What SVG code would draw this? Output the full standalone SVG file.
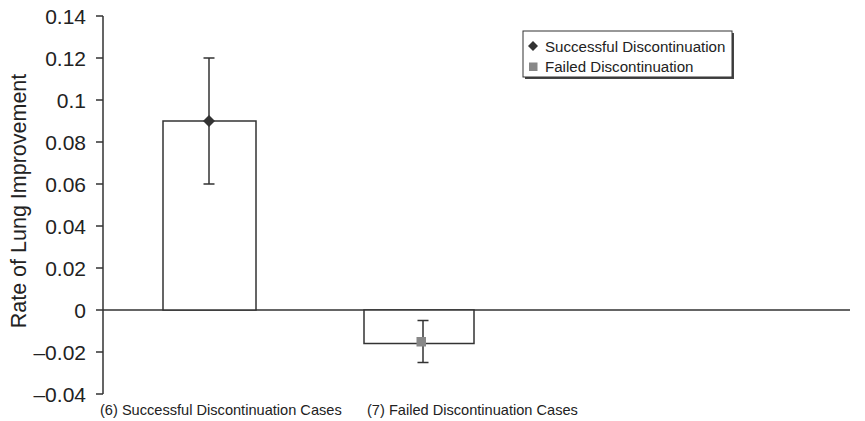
<svg xmlns="http://www.w3.org/2000/svg" width="865" height="421" viewBox="0 0 865 421">
<style>
.ax{stroke:#333;stroke-width:1.5;fill:none}
.tl{font-family:"Liberation Sans",Arial,sans-serif;font-size:21px;fill:#222;text-anchor:end}
.bar{fill:#fff;stroke:#333;stroke-width:1.5}
.eb{stroke:#333;stroke-width:1.5;fill:none}
.lg{font-family:"Liberation Sans",Arial,sans-serif;font-size:15.1px;fill:#222}
.cat{font-family:"Liberation Sans",Arial,sans-serif;font-size:14.6px;fill:#222}
</style>
<rect width="865" height="421" fill="#fff"/>
<g id="axes">
<path class="ax" d="M103,16 V394 M96,16 H103 M96,58 H103 M96,100 H103 M96,142 H103 M96,184 H103 M96,226 H103 M96,268 H103 M96,352 H103 M96,394 H103 M96,310 H850"/>
<text class="tl" x="86" y="23.5">0.14</text>
<text class="tl" x="86" y="65.5">0.12</text>
<text class="tl" x="86" y="107.5">0.1</text>
<text class="tl" x="86" y="149.5">0.08</text>
<text class="tl" x="86" y="191.5">0.06</text>
<text class="tl" x="86" y="233.5">0.04</text>
<text class="tl" x="86" y="275.5">0.02</text>
<text class="tl" x="86" y="317.5">0</text>
<text class="tl" x="86" y="359.5">–0.02</text>
<text class="tl" x="86" y="401.5">–0.04</text>
<text font-family="Liberation Sans,Arial,sans-serif" font-size="21.5" fill="#222" text-anchor="middle" transform="translate(26,201) rotate(-90)">Rate of Lung Improvement</text>
</g>
<g id="bar-successful">
<rect class="bar" x="163" y="121" width="93" height="189"/>
<path class="eb" d="M209,58 V184 M203.5,58 H214.5 M203.5,184 H214.5"/>
<path d="M209,115 L215,121 L209,127 L203,121 Z" fill="#333"/>
</g>
<g id="bar-failed">
<rect class="bar" x="364" y="310" width="110" height="33.5"/>
<path class="eb" d="M423,320.5 V362.5 M417.5,320.5 H428.5 M417.5,362.5 H428.5"/>
<rect x="416.5" y="337" width="9.5" height="9.5" fill="#888"/>
</g>
<g id="legend">
<rect x="525" y="33" width="209" height="46" fill="#444"/>
<rect x="523" y="31" width="209" height="46" fill="#fff" stroke="#333" stroke-width="1"/>
<path d="M533,41 L538,46 L533,51 L528,46 Z" fill="#333"/>
<text class="lg" x="545" y="52">Successful Discontinuation</text>
<rect x="529" y="62.5" width="8.5" height="8.5" fill="#888"/>
<text class="lg" x="545" y="72">Failed Discontinuation</text>
</g>
<g id="categories">
<text class="cat" x="100" y="415">(6) Successful Discontinuation Cases</text>
<text class="cat" x="367" y="415">(7) Failed Discontinuation Cases</text>
</g>
</svg>
